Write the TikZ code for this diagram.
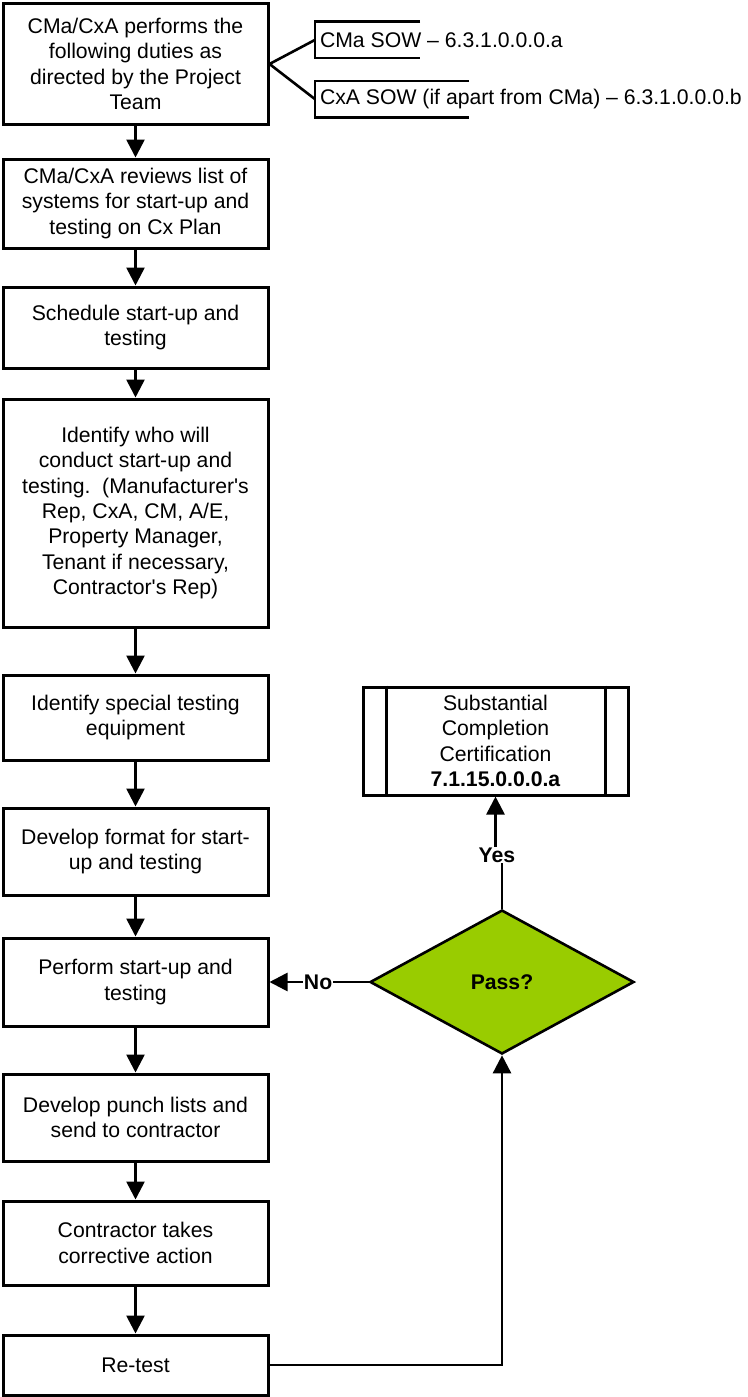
\documentclass[tikz,border=0pt]{standalone}
\usepackage{fontspec}
\newfontfamily\lib{Liberation Sans}
\usetikzlibrary{arrows.meta,shapes.geometric,calc}
\definecolor{passgreen}{RGB}{153,204,0}
\begin{document}
\begin{tikzpicture}[x=1pt,y=-1pt,
  txt/.style={font=\lib\fontsize{21.2pt}{25.4pt}\selectfont},
  box/.style={txt, draw, line width=3pt, minimum width=265pt, align=center, inner sep=0pt},
  arr/.style={line width=2.6pt, -{Triangle[length=18pt,width=18pt]}},
  ln/.style={line width=2.6pt},
  lbl/.style={font=\lib\bfseries\fontsize{21.2pt}{25.4pt}\selectfont, fill=white, inner sep=1pt},
  brk/.style={inner sep=0pt, minimum height=36pt}]
\useasboundingbox (0,0) rectangle (747,1397);

\node[box, minimum height=120pt] (b1) at (135.5,64) {CMa/CxA performs the\\following duties as\\directed by the Project\\Team};
\node[box, minimum height=89pt] (b2) at (135.5,203.5) {CMa/CxA reviews list of\\systems for start-up and\\testing on Cx Plan};
\node[box, minimum height=81pt] (b3) at (135.5,327.5) {Schedule start-up and\\testing};
\node[box, minimum height=228pt] (b4) at (135.5,513) {Identify who will\\conduct start-up and\\testing.\ \ (Manufacturer's\\Rep, CxA, CM, A/E,\\Property Manager,\\Tenant if necessary,\\Contractor's Rep)};
\node[box, minimum height=85pt] (b5) at (135.5,717.5) {Identify special testing\\equipment};
\node[box, minimum height=87pt] (b6) at (135.5,851.5) {Develop format for start-\\up and testing};
\node[box, minimum height=88pt] (b7) at (135.5,982) {Perform start-up and\\testing};
\node[box, minimum height=87pt] (b8) at (135.5,1117.5) {Develop punch lists and\\send to contractor};
\node[box, minimum height=84pt] (b9) at (135.5,1243) {Contractor takes\\corrective action};
\node[box, minimum height=60pt] (b10) at (135.5,1365) {Re-test};

\foreach \a/\b in {b1/b2,b2/b3,b3/b4,b4/b5,b5/b6,b6/b7,b7/b8,b8/b9,b9/b10}
  \draw[arr] (\a.south) -- (\b.north);

% annotation brackets
\node[brk, minimum width=105pt] (br1) at (367.5,40) {};
\node[brk, minimum width=154pt] (br2) at (392,99) {};
\draw[ln] (br1.north east) -- (br1.north west) -- (br1.south west) -- (br1.south east);
\draw[ln] (br2.north east) -- (br2.north west) -- (br2.south west) -- (br2.south east);
\node[txt, anchor=west, inner sep=0pt] (t1) at ($(br1.west)+(5,0)$) {CMa SOW – 6.3.1.0.0.0.a};
\node[txt, anchor=west, inner sep=0pt] (t2) at ($(br2.west)+(5,0)$) {CxA SOW (if apart from CMa) – 6.3.1.0.0.0.b};
\draw[ln] (br1.west) -- (b1.east) -- (br2.west);

% decision
\node[diamond, draw, line width=2.6pt, fill=passgreen, minimum width=264pt, minimum height=144pt, inner sep=0pt,
      font=\lib\bfseries\fontsize{21.2pt}{25.4pt}\selectfont] (dia) at (502,982) {Pass?};

% predefined process
\node[txt, draw, line width=3pt, minimum width=265pt, minimum height=108pt, align=center, inner sep=0pt] (pp) at (495.5,741)
  {Substantial\\Completion\\Certification\\\textbf{7.1.15.0.0.0.a}};
\draw[line width=3pt] ([xshift=25pt]pp.north west) -- ([xshift=25pt]pp.south west);
\draw[line width=3pt] ([xshift=-24pt]pp.north east) -- ([xshift=-24pt]pp.south east);

% connectors
\draw[arr] (dia.north) -- ++(0,-55) -| (pp.south);
\node[lbl] (yes) at (497,855) {Yes};
\draw[arr] (dia.west) -- node[lbl, pos=0.51] (no) {No} (b7.east);
\draw[arr] (b10.east) -| (dia.south);
\end{tikzpicture}
\end{document}
